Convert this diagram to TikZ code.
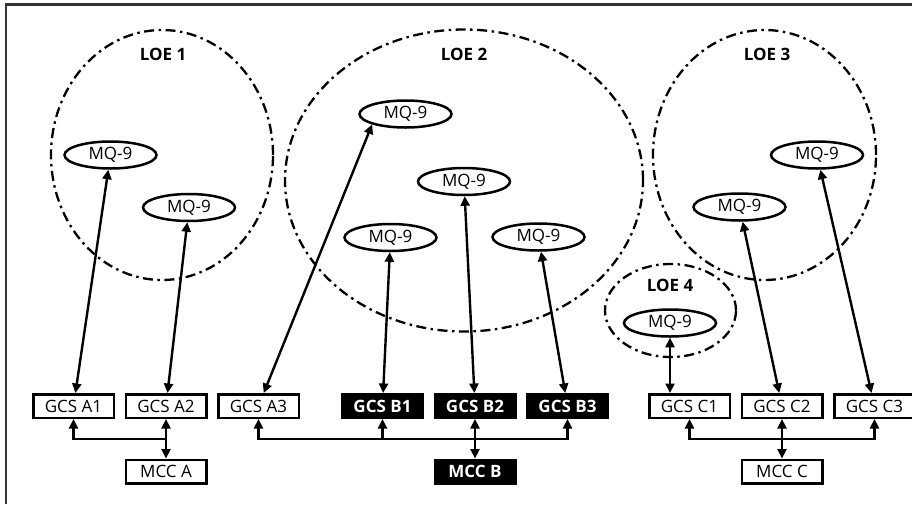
\documentclass[tikz,border=0pt]{standalone}
\usepackage{fontspec}
\setmainfont{Open Sans}
\usetikzlibrary{arrows.meta,positioning,shapes.geometric}
\newcommand{\diagfont}{\fontsize{17}{20}\selectfont}
\tikzset{
  uav/.style={draw, ellipse, line width=2.5pt, fill=white, inner sep=0pt,
              minimum width=92pt, minimum height=27pt, font=\diagfont},
  loezone/.style={draw, ellipse, line width=2.3pt, inner sep=0pt,
                  dash pattern=on 10pt off 4.5pt on 2.5pt off 4.5pt},
  loelabel/.style={font=\diagfont\bfseries},
  gcs/.style={draw, line width=2.5pt, fill=white, inner sep=0pt,
              minimum width=80.5pt, minimum height=23.5pt, font=\diagfont},
  gcsdark/.style={gcs, fill=black, text=white, font=\diagfont\bfseries},
  link/.style={line width=2.4pt, arrows={Triangle[length=9.5pt,width=9pt]-Triangle[length=9.5pt,width=9pt]}},
  feed/.style={line width=2.4pt, arrows={-Triangle[length=9.5pt,width=9pt]}}
}
\begin{document}
\begin{tikzpicture}[x=1pt, y=-1pt]
  \useasboundingbox (0,0) rectangle (912,504);
  % Frame
  \draw[line width=2.4pt, black!80] (6,504) -- (6,4.5) -- (912,4.5);

  % Lines of effort
  \node(loe1)[loezone, minimum width=222pt, minimum height=250pt] at (162,155) {};
  \node(loe2)[loezone, minimum width=358pt, minimum height=302pt] at (464,180.5) {};
  \node(loe3)[loezone, minimum width=223pt, minimum height=250pt] at (764.5,155) {};
  \node(loe4)[loezone, minimum width=131pt, minimum height=93pt] at (670.5,310.5) {};
  \node(loe1lbl)[loelabel] at (163,54) {LOE 1};
  \node(loe2lbl)[loelabel] at (464,54) {LOE 2};
  \node(loe3lbl)[loelabel] at (767,54) {LOE 3};
  \node(loe4lbl)[loelabel] at (670,285) {LOE 4};

  % Aircraft
  \node(uav1)[uav] at (110.5,155) {MQ-9};
  \node(uav2)[uav] at (189,207.5) {MQ-9};
  \node(uav3)[uav] at (405.5,114) {MQ-9};
  \node(uav4)[uav] at (464,181.5) {MQ-9};
  \node(uav5)[uav] at (390.5,237.5) {MQ-9};
  \node(uav6)[uav] at (538.5,237) {MQ-9};
  \node(uav7)[uav] at (739.5,207) {MQ-9};
  \node(uav8)[uav] at (817,155) {MQ-9};
  \node(uav9)[uav] at (670,323) {MQ-9};

  % Ground control stations
  \node(a1)[gcs] at (73.5,406) {GCS A1};
  \node[right=9.5pt of a1] (a2)[gcs] {GCS A2};
  \node[right=9.5pt of a2] (a3)[gcs] {GCS A3};
  \node[right=41pt of a3] (b1)[gcsdark] {GCS B1};
  \node[right=9.5pt of b1] (b2)[gcsdark] {GCS B2};
  \node[right=9.5pt of b2] (b3)[gcsdark] {GCS B3};
  \node[right=39pt of b3] (c1)[gcs] {GCS C1};
  \node[right=9.5pt of c1] (c2)[gcs] {GCS C2};
  \node[right=9.5pt of c2] (c3)[gcs] {GCS C3};

  % Mission control
  \node[below=39.5pt of a2] (mcca)[gcs] {MCC A};
  \node[below=39.5pt of b2] (mccb)[gcsdark] {MCC B};
  \node[below=39.5pt of c2] (mccc)[gcs] {MCC C};

  % Aircraft links
  \draw[link] (uav1) -- (a1);
  \draw[link] (uav2) -- (a2);
  \draw[link] (uav3.south west) -- (a3);
  \draw[link] (uav5) -- (b1);
  \draw[link] (uav4) -- (b2);
  \draw[link] (uav6) -- (b3);
  \draw[link] (uav9) -- (uav9 |- c1.north);
  \draw[link] (uav7) -- (c2);
  \draw[link] (uav8) -- (c3);

  % Buses
  \path (a2.south) -- coordinate (busa) (mcca.north);
  \path (b2.south) -- coordinate (busb) (mccb.north);
  \path (c2.south) -- coordinate (busc) (mccc.north);
  \draw[link] (a2) -- (mcca);
  \draw[feed] (busa) -| (a1.south);
  \draw[link] (b2) -- (mccb);
  \draw[feed] (busb) -| (a3.south);
  \draw[feed] (busb) -| (b3.south);
  \draw[feed] (busb -| b1.south) -- (b1.south);
  \draw[link] (c2) -- (mccc);
  \draw[feed] (busc) -| (c1.south);
  \draw[feed] (busc) -| (c3.south);

\end{tikzpicture}
\end{document}
